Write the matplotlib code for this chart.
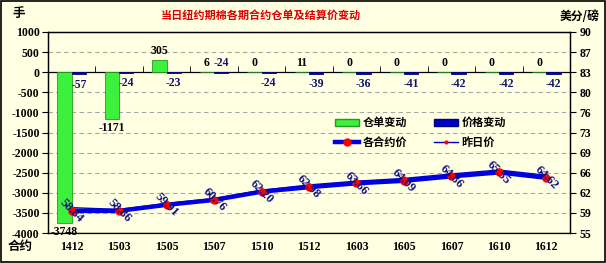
import matplotlib
matplotlib.use('Agg')
import matplotlib.pyplot as plt
import numpy as np
from matplotlib.patches import Patch
from matplotlib.lines import Line2D

contracts = ['1412', '1503', '1505', '1507', '1510', '1512', '1603', '1605', '1607', '1610', '1612']
warrant_change = [-3748, -1171, 305, 6, 0, 11, 0, 0, 0, 0, 0]
price_change = [-57, -24, -23, -24, -24, -39, -36, -41, -42, -42, -42]
settle_price = [58.84, 58.86, 59.91, 60.76, 62.20, 62.98, 63.66, 64.09, 64.86, 65.55, 64.62]
prev_price = [59.41, 59.10, 60.14, 61.00, 62.44, 63.37, 64.02, 64.50, 65.28, 65.97, 65.04]
left_ticks = [-4000, -3500, -3000, -2500, -2000, -1500, -1000, -500, 0, 500, 1000]
right_ticks = [55, 58.5, 62, 65.5, 69, 72.5, 76, 79.5, 83, 86.5, 90]
right_labels = ['55', '59', '62', '66', '69', '73', '76', '80', '83', '87', '90']
price_label_side = ['below', 'below', 'below', 'above', 'below', 'below', 'below', 'below', 'below', 'below', 'below']

CJK = ['Noto Sans CJK SC', 'DejaVu Sans']
NUM = 'Liberation Serif'
BG = '#FFFFE1'

fig = plt.figure(figsize=(6.06, 2.63), dpi=100, facecolor=BG)
fig.patches.append(plt.Rectangle((0.001, 0.002), 0.997, 0.995, transform=fig.transFigure,
                                 fill=False, edgecolor='black', lw=1.2))
ax = fig.add_axes([48/606, 30/263, 522/606, 201/263])
ax.set_facecolor(BG)

x = np.arange(len(contracts))
bw = 0.3
ax.bar(x - bw/2, warrant_change, width=bw, color='#3CF03C', edgecolor='#229922', lw=0.6, zorder=3)
ax.bar(x + bw/2, price_change, width=bw, color='#0000C8', edgecolor='#000080', lw=0.6, zorder=3)

ax.set_xlim(-0.5, len(contracts) - 0.5)
ax.set_ylim(left_ticks[0], left_ticks[-1])
ax.set_yticks(left_ticks)
ax.set_yticklabels([str(v) for v in left_ticks], fontfamily=NUM, fontweight='bold', fontsize=8.5)
for v in left_ticks[1:-1]:
    if v != 0:
        ax.axhline(v, color='#A8A8A8', lw=0.8, ls=(0, (4, 3)), zorder=1)
ax.tick_params(axis='y', direction='out', length=4, pad=2)

# category axis crossing at 0
ax.spines['bottom'].set_position(('data', 0))
ax.set_xticks(x)
ax.set_xticks(np.arange(-0.5, len(contracts), 1), minor=True)
ax.tick_params(axis='x', which='major', length=0, labelbottom=False)
ax.tick_params(axis='x', which='minor', direction='in', length=4)
for s in ax.spines.values():
    s.set_color('black')
    s.set_linewidth(0.9)
ax.axhline(left_ticks[0], color='black', lw=0.9, zorder=2)

sec = ax.secondary_xaxis(0)
sec.spines['bottom'].set_visible(False)
sec.set_xticks(x)
sec.set_xticklabels(contracts, fontfamily=NUM, fontweight='bold', fontsize=8.5)
sec.tick_params(length=0, pad=6)

# bar labels
for i, v in enumerate(warrant_change):
    if v >= 0:
        ax.annotate(str(v), (x[i] - bw/2, v), xytext=(0, 2), textcoords='offset points',
                    ha='center', va='bottom', fontfamily=NUM, fontweight='bold', fontsize=8.5, color='black', zorder=5)
    else:
        ax.annotate(str(v), (x[i] - bw/2, v), xytext=(0, -2), textcoords='offset points',
                    ha='center', va='top', fontfamily=NUM, fontweight='bold', fontsize=8.5, color='black', zorder=5)
for i, v in enumerate(price_change):
    if price_label_side[i] == 'above':
        ax.annotate(str(v), (x[i] + bw/2, 0), xytext=(0, 2), textcoords='offset points',
                    ha='center', va='bottom', fontfamily=NUM, fontweight='bold', fontsize=8.5, color='#101070', zorder=5)
    else:
        ax.annotate(str(v), (x[i] + bw/2, v), xytext=(0, -3), textcoords='offset points',
                    ha='center', va='top', fontfamily=NUM, fontweight='bold', fontsize=8.5, color='#101070', zorder=5)

# right axis with prices
ax2 = ax.twinx()
ax2.set_ylim(right_ticks[0], right_ticks[-1])
ax2.set_yticks(right_ticks)
ax2.set_yticklabels(right_labels, fontfamily=NUM, fontweight='bold', fontsize=8.5)
ax2.tick_params(axis='y', direction='out', length=4, pad=3)
for s in ax2.spines.values():
    s.set_color('black')
    s.set_linewidth(0.9)
ax2.plot(x, prev_price, color='#0000CC', lw=1.0, marker='o', ms=2, mfc='red', mec='red', zorder=3)
ax2.plot(x, settle_price, color='#0000E0', lw=3.2, marker='o', ms=5, mfc='red', mec='red', zorder=4)
for i, p in enumerate(settle_price):
    ax2.text(x[i], p, f'{p:.2f}', rotation=-45, rotation_mode='anchor', ha='center', va='center',
             fontfamily=NUM, fontweight='bold', fontsize=9, color='#101080', zorder=6)

handles = [Patch(facecolor='#3CF03C', edgecolor='#229922'),
           Line2D([], [], color='#0000E0', lw=3.2, marker='o', ms=5, mfc='red', mec='red'),
           Patch(facecolor='#0000C8', edgecolor='#000080'),
           Line2D([], [], color='#0000CC', lw=1.0, marker='o', ms=2, mfc='red', mec='red')]
labels = ['仓单变动', '各合约价', '价格变动', '昨日价']
leg = ax2.legend(handles, labels, ncol=2, loc='upper left', bbox_to_anchor=(0.53, 0.63),
                 frameon=False, prop={'family': CJK, 'weight': 'bold', 'size': 8},
                 handlelength=2.2, handleheight=0.7, columnspacing=2.4, labelspacing=0.55,
                 handletextpad=0.3)

fig.text(261/606, 1 - 15/263, '当日纽约期棉各期合约仓单及结算价变动', ha='center', va='center',
         fontfamily=CJK, fontweight='bold', fontsize=8, color='#DD0000')
fig.text(12/606, 1 - 13/263, '手', ha='left', va='center', fontfamily=CJK, fontweight='bold', fontsize=9)
fig.text(600/606, 1 - 16/263, '美分/磅', ha='right', va='center', fontfamily=CJK, fontweight='bold', fontsize=8.5)
fig.text(8/606, 1 - 246/263, '合约', ha='left', va='center', fontfamily=CJK, fontweight='bold', fontsize=9)

fig.savefig('out.png', dpi=100, facecolor=BG)
